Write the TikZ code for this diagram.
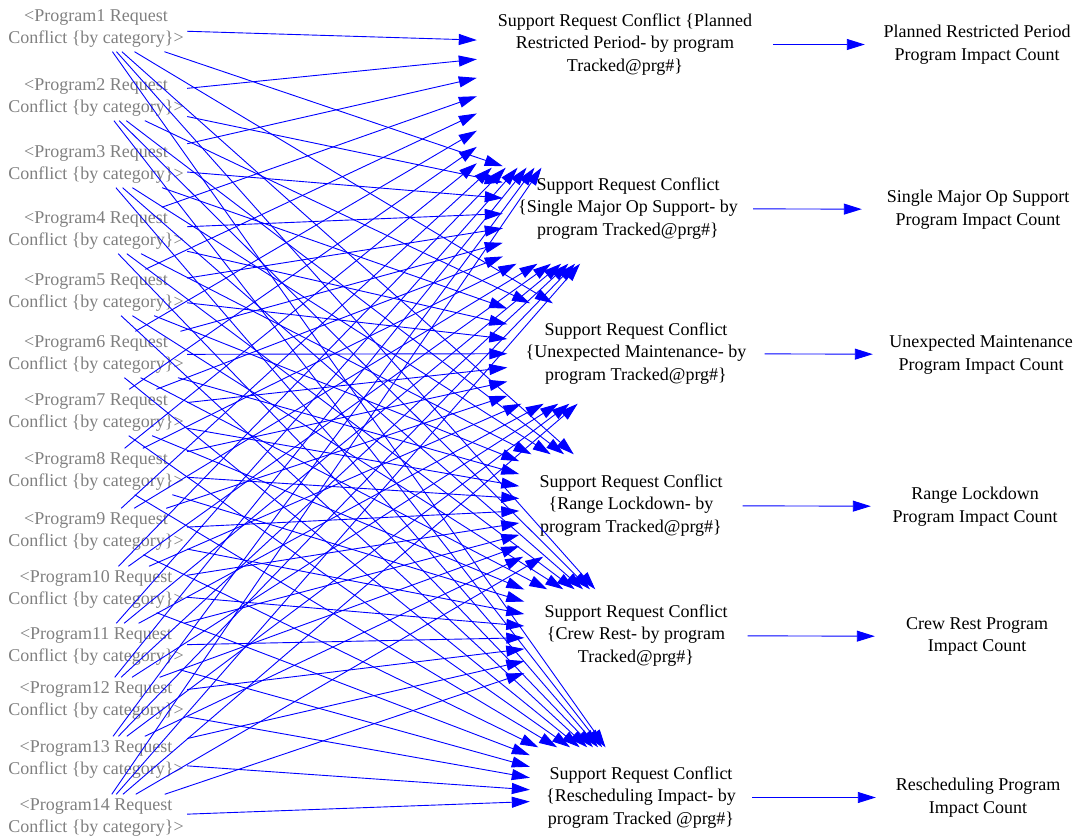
\documentclass[tikz,border=0pt]{standalone}
\usepackage{fontspec}
\setmainfont{Liberation Serif}
\usetikzlibrary{arrows.meta}
\definecolor{proggray}{RGB}{128,128,128}
\definecolor{linkblue}{RGB}{0,0,255}
\begin{document}
\begin{tikzpicture}[x=1pt,y=-1pt,
  every node/.style={font=\fontsize{18}{22.7}\selectfont,align=center,inner sep=0pt,yshift=-2.5pt},
  prog/.style={text=proggray,minimum width=182pt,minimum height=46pt},
  conf/.style={text=black},
  cnt/.style={text=black,minimum height=46pt},
  link/.style={linkblue,line width=0.9pt,-{Triangle[length=18pt,width=11pt]}}]
\useasboundingbox (0,0) rectangle (1081,837);
% program request conflicts (left column)
\foreach \i/\y in {1/26,2/95,3/162,4/228,5/290,6/352,7/410,8/469,9/529,10/587,11/644,12/698,13/757,14/815}
  \node[prog] (p\i) at (96,\y) {<Program\i{} Request\\Conflict \{by category\}>};
% support request conflicts (middle column)
\node[conf,minimum width=296pt,minimum height=246pt] (c1) at (625,42)
  {Support Request Conflict \{Planned\\Restricted Period- by program\\Tracked@prg\#\}};
\node[conf,minimum width=250pt,minimum height=110pt] (c2) at (628,206)
  {Support Request Conflict\\\{Single Major Op Support- by\\program Tracked@prg\#\}};
\node[conf,minimum width=257pt,minimum height=100pt] (c3) at (636,351)
  {Support Request Conflict\\\{Unexpected Maintenance- by\\program Tracked@prg\#\}};
\node[conf,minimum width=223pt,minimum height=102pt] (c4) at (631,503)
  {Support Request Conflict\\\{Range Lockdown- by\\program Tracked@prg\#\}};
\node[conf,minimum width=223pt,minimum height=92pt] (c5) at (636,633)
  {Support Request Conflict\\\{Crew Rest- by program\\Tracked@prg\#\}};
\node[conf,minimum width=222pt,minimum height=100pt] (c6) at (641,795)
  {Support Request Conflict\\\{Rescheduling Impact- by\\program Tracked @prg\#\}};
% impact counts (right column)
\node[cnt,minimum width=224pt] (k1) at (977,42) {Planned Restricted Period\\Program Impact Count};
\node[cnt,minimum width=232pt] (k2) at (978,207) {Single Major Op Support\\Program Impact Count};
\node[cnt,minimum width=216pt] (k3) at (981,352) {Unexpected Maintenance\\Program Impact Count};
\node[cnt,minimum width=208pt] (k4) at (975,504) {Range Lockdown\\Program Impact Count};
\node[cnt,minimum width=204pt] (k5) at (977,634) {Crew Rest Program\\Impact Count};
\node[cnt,minimum width=204pt] (k6) at (978,795) {Rescheduling Program\\Impact Count};
% every program feeds every conflict
\foreach \i in {1,...,14}
  \foreach \j in {1,...,6}
    \draw[link] (p\i) -- (c\j);
\foreach \j in {1,...,6}
  \draw[link] (c\j) -- (k\j);
\end{tikzpicture}
\end{document}
